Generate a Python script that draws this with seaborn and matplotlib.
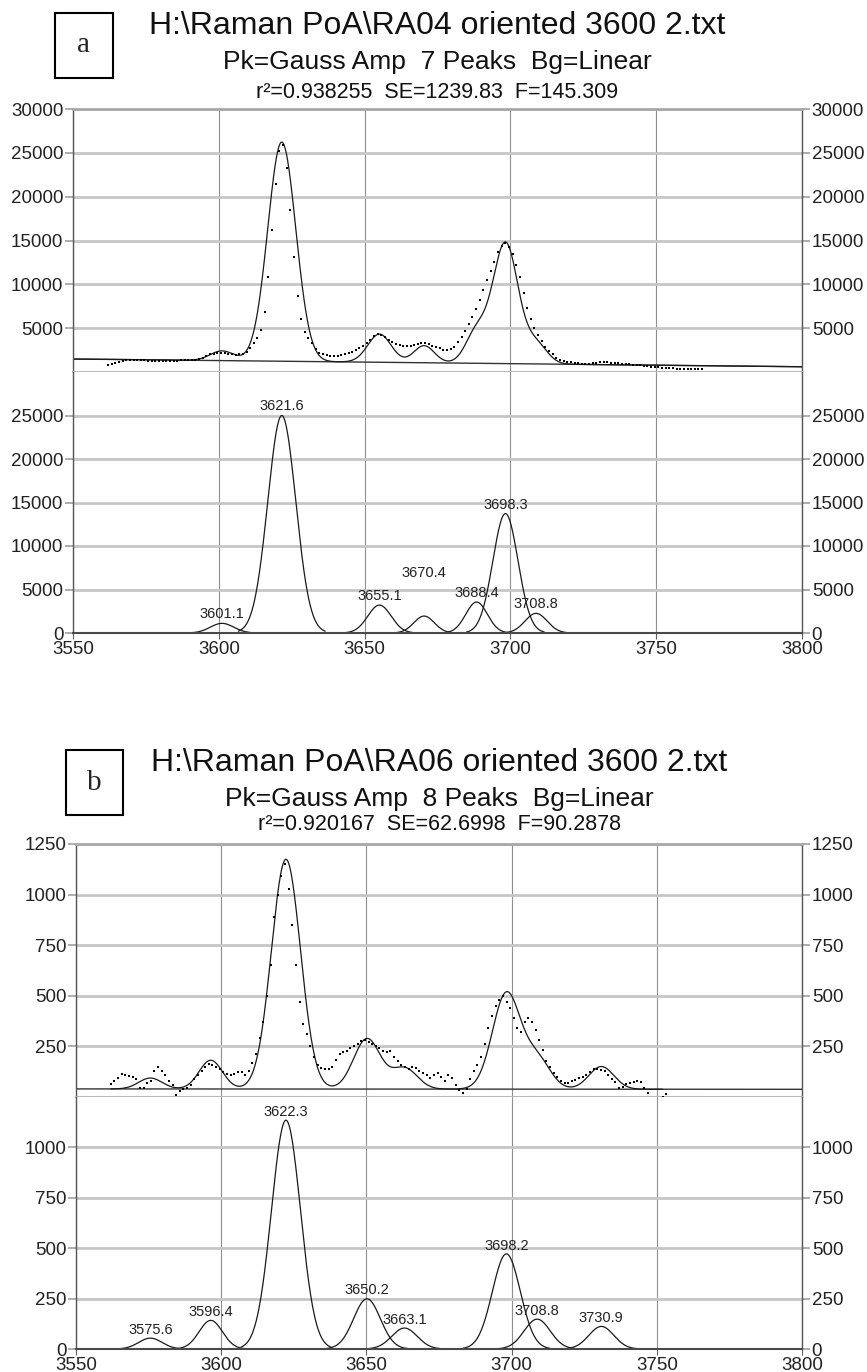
import numpy as np
import matplotlib
matplotlib.use("Agg")
import matplotlib.pyplot as plt
import seaborn as sns
from matplotlib.patches import Rectangle

# ------------------------------------------------------------------ data
x_ticks = [3550, 3600, 3650, 3700, 3750, 3800]

# panel a
a_letter = "a"
a_title = "H:\\Raman PoA\\RA04 oriented 3600 2.txt"
a_sub1 = "Pk=Gauss Amp  7 Peaks  Bg=Linear"
a_sub2 = "r²=0.938255  SE=1239.83  F=145.309"
a_centers = [3601.1, 3621.6, 3655.1, 3670.4, 3688.4, 3698.3, 3708.8]
a_amps = [1110, 25000, 3210, 1950, 3560, 13730, 2260]
a_sigmas = [4.0, 4.8, 4.0, 3.5, 3.7, 4.3, 3.8]
a_bg = [1480, 600]            # linear background at 3550 and 3800
a_data_start = 3562
a_data_step = 1.25
a_data = [800, 950, 1050, 1150, 1250, 1330, 1380, 1400, 1380, 1350,
          1330, 1310, 1300, 1300, 1290, 1280, 1290, 1300, 1300, 1310,
          1320, 1340, 1350, 1360, 1400, 1500, 1650, 1850, 2000, 2100,
          2180, 2200, 2150, 2080, 2000, 1950, 2000, 2100, 2300, 2700,
          3300, 3900, 4800, 6800, 10800, 16200, 21500, 25200, 25900, 23300,
          18500, 13100, 8700, 6000, 4600, 3850, 3300, 2600, 2200, 2000,
          1900, 1850, 1800, 1850, 1900, 2000, 2150, 2300, 2500, 2700,
          2950, 3300, 3700, 4100, 4300, 4250, 4000, 3700, 3400, 3200,
          3050, 3000, 2950, 2950, 3050, 3150, 3300, 3300, 3150, 3000,
          2850, 2700, 2550, 2500, 2600, 2900, 3400, 4000, 4700, 5500,
          6300, 7200, 8200, 9300, 10450, 11500, 12600, 13700, 14400, 14700,
          14300, 13500, 12200, 10800, 9000, 7300, 6000, 5000, 4200, 3500,
          2900, 2400, 2000, 1650, 1400, 1250, 1150, 1100, 1050, 1000,
          950, 900, 920, 980, 1050, 1100, 1130, 1100, 1050, 1000,
          980, 950, 900, 870, 830, 800, 760, 720, 680, 620,
          580, 540, 500, 460, 420, 400, 380, 360, 350, 340,
          330, 340, 360, 380]
a_top_ticks = [5000, 10000, 15000, 20000, 25000, 30000]
a_bot_ticks = [0, 5000, 10000, 15000, 20000, 25000]
a_ymax = 30000
a_fit_range = [3550, 3800]

# panel b
b_letter = "b"
b_title = "H:\\Raman PoA\\RA06 oriented 3600 2.txt"
b_sub1 = "Pk=Gauss Amp  8 Peaks  Bg=Linear"
b_sub2 = "r²=0.920167  SE=62.6998  F=90.2878"
b_centers = [3575.6, 3596.4, 3622.3, 3650.2, 3663.1, 3698.2, 3708.8, 3730.9]
b_amps = [54, 142, 1135, 249, 104, 472, 148, 112]
b_sigmas = [4.0, 4.0, 5.0, 4.6, 4.4, 4.8, 4.5, 4.3]
b_bg = [40, 38]
b_data_start = 3562
b_data_step = 1.25
b_data = [65, 80, 95, 115, 110, 105, 100, 90, 45, 45,
          70, 80, 130, 150, 130, 110, 80, 60, 10, 30,
          40, 45, 60, 90, 110, 130, 150, 165, 160, 150,
          140, 125, 115, 110, 115, 125, 125, 110, 130, 170,
          210, 290, 370, 500, 650, 890, 1000, 1090, 1150, 1030,
          850, 650, 470, 360, 310, 250, 200, 160, 145, 140,
          140, 150, 185, 210, 220, 225, 240, 250, 260, 275,
          280, 270, 260, 250, 240, 225, 220, 225, 200, 180,
          160, 150, 140, 150, 145, 130, 120, 110, 95, 110,
          120, 100, 80, 110, 95, 60, 35, 20, 40, 90,
          130, 160, 200, 260, 340, 400, 450, 480, 500, 470,
          440, 390, 340, 320, 370, 390, 370, 330, 280, 230,
          180, 150, 120, 100, 80, 70, 70, 80, 85, 95,
          100, 110, 125, 140, 140, 135, 130, 110, 90, 75,
          45, 50, 65, 70, 75, 80, 75, 45, 20, -10,
          -20, -15, 0, 15]
b_top_ticks = [250, 500, 750, 1000, 1250]
b_bot_ticks = [0, 250, 500, 750, 1000]
b_ymax = 1250
b_fit_range = [3562, 3752]

# ------------------------------------------------------------------ style
sns.set_style("white")
plt.rcParams["font.family"] = ["Liberation Sans", "DejaVu Sans"]
SERIF = ["Liberation Serif", "DejaVu Serif"]

W, H = 867, 1372
fig = plt.figure(figsize=(W / 100, H / 100), dpi=100)


def rect(l, t, r, b):
    return [l / W, 1 - b / H, (r - l) / W, (b - t) / H]


def style_axes(ax, ticks, ymax, bottom):
    ax.set_xlim(x_ticks[0], x_ticks[-1])
    ax.set_ylim(0, ymax)
    ax.set_xticks(x_ticks)
    ax.set_yticks(ticks)
    ax.set_axisbelow(True)
    ax.xaxis.grid(True, color="#8f8f8f", lw=0.8)
    ax.yaxis.grid(True, color="#c6c6c6", lw=2.0)
    ax.set_xlabel("")
    ax.set_ylabel("")
    ax.tick_params(axis="y", left=True, right=True, labelleft=True,
                   labelright=True, length=6, width=1.2, color="#a0a0a0",
                   labelsize=13.5, pad=1, labelcolor="#222222")
    ax.yaxis.set_major_formatter(matplotlib.ticker.FuncFormatter(lambda v, p: f"{v:.0f}"))
    if bottom:
        ax.tick_params(axis="x", bottom=True, labelbottom=True, length=4,
                       color="#606060", labelsize=13.5, pad=2, labelcolor="#222222")
        ax.spines["top"].set_visible(False)
        ax.spines["bottom"].set_color("#4a4a4a")
        ax.spines["bottom"].set_linewidth(1.5)
    else:
        ax.tick_params(axis="x", bottom=False, labelbottom=False)
        ax.spines["top"].set_color("#a8a8a8")
        ax.spines["top"].set_linewidth(2.0)
        ax.spines["bottom"].set_color("#b8b8b8")
        ax.spines["bottom"].set_linewidth(1.5)
    for s in ("left", "right"):
        ax.spines[s].set_visible(True)
        ax.spines[s].set_color("#555555")
        ax.spines[s].set_linewidth(1.0)


def gauss(x, c, a, s):
    return a * np.exp(-(x - c) ** 2 / (2 * s ** 2))


def draw_panel(top_px, bot_px, centers, amps, sigmas, bg, d_start, d_step, data,
               top_ticks, bot_ticks, ymax, fit_range, label_off, special_off):
    ax1 = fig.add_axes(rect(*top_px))
    ax2 = fig.add_axes(rect(*bot_px))

    xs = np.linspace(x_ticks[0], x_ticks[-1], 2001)
    base = bg[0] + (bg[1] - bg[0]) * (xs - x_ticks[0]) / (x_ticks[-1] - x_ticks[0])
    fit = base.copy()
    for c, a, s in zip(centers, amps, sigmas):
        fit = fit + gauss(xs, c, a, s)
    m = (xs >= fit_range[0]) & (xs <= fit_range[1])

    sns.lineplot(x=xs, y=base, ax=ax1, color="#333333", lw=1.0,
                 sort=False, estimator=None)
    sns.lineplot(x=xs[m], y=fit[m], ax=ax1, color="#1a1a1a", lw=0.9,
                 sort=False, estimator=None)
    dx = d_start + d_step * np.arange(len(data))
    sns.scatterplot(x=dx, y=np.array(data, dtype=float), ax=ax1, s=4,
                    color="black", linewidth=0, marker="s", clip_on=False,
                    zorder=5)

    for c, a, s in zip(centers, amps, sigmas):
        cx = np.linspace(c - 3.1 * s, c + 3.1 * s, 200)
        sns.lineplot(x=cx, y=gauss(cx, c, a, s), ax=ax2, color="#1a1a1a",
                     lw=0.9, sort=False, estimator=None)
        off = special_off.get(c, label_off)
        ax2.annotate(f"{c:.1f}", xy=(c, a), xytext=(0, off),
                     textcoords="offset points", ha="center", va="center",
                     fontsize=10.5, color="#222222")

    style_axes(ax1, top_ticks, ymax, bottom=False)
    style_axes(ax2, bot_ticks, ymax, bottom=True)
    return ax1, ax2


def header(letter, box_px, lines, ys, xc):
    x0, y0, x1, y1 = box_px
    fig.add_artist(Rectangle((x0 / W, 1 - y1 / H), (x1 - x0) / W, (y1 - y0) / H,
                             transform=fig.transFigure, fill=False,
                             lw=1.5, ec="black"))
    fig.text((x0 + x1) / 2 / W, 1 - (y0 + y1) / 2 / H, letter, family=SERIF,
             fontsize=21, ha="center", va="center")
    sizes = [23, 19, 15.5]
    for txt, y, fs in zip(lines, ys, sizes):
        fig.text(xc / W, 1 - y / H, txt, fontsize=fs, ha="center",
                 va="center", color="#111111")


# panel a
draw_panel((73, 109, 802, 372), (73, 372, 802, 633),
           a_centers, a_amps, a_sigmas, a_bg, a_data_start, a_data_step, a_data,
           a_top_ticks, a_bot_ticks, a_ymax, a_fit_range, 6.5, {3670.4: 31})
header(a_letter, (55, 13, 113, 78), [a_title, a_sub1, a_sub2], [26, 62, 93], 437)

# panel b
draw_panel((76, 844, 802, 1097), (76, 1097, 802, 1349),
           b_centers, b_amps, b_sigmas, b_bg, b_data_start, b_data_step, b_data,
           b_top_ticks, b_bot_ticks, b_ymax, b_fit_range, 6.0, {})
header(b_letter, (66, 750, 123, 815), [b_title, b_sub1, b_sub2], [763, 799, 825], 439)

fig.savefig("out.png", dpi=100)
